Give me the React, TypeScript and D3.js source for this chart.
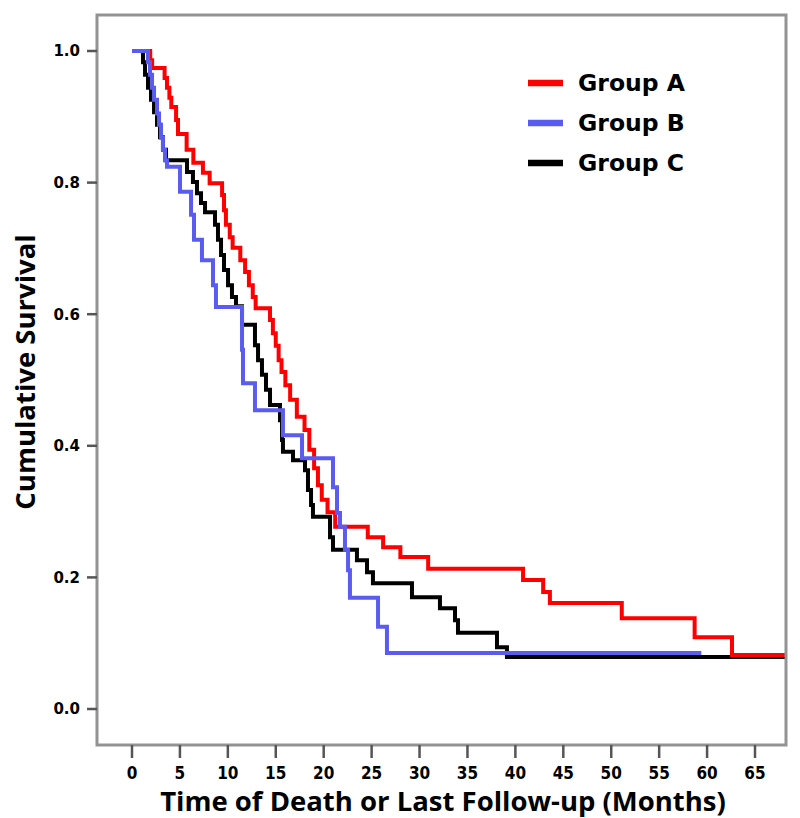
import React from "react";
import * as d3 from "d3";

// ---- data ----
const xTicks = [0, 5, 10, 15, 20, 25, 30, 35, 40, 45, 50, 55, 60, 65];
const yTicks = [0, 0.2, 0.4, 0.6, 0.8, 1.0];

const groupNames = ["Group A", "Group B", "Group C"];
const groupColors = ["#ff0000", "#5a5cf0", "#000000"];

const timesA = [1.9, 2.1, 3.4, 3.65, 3.9, 4.1, 4.6, 4.8, 5.7, 6.4, 7.4, 8.1, 9.4, 9.6, 9.8, 10.2, 10.5, 11.3, 11.8, 12.2, 12.6, 12.9, 14.4, 14.7, 15.0, 15.3, 15.6, 16.0, 16.5, 17.2, 18.0, 18.5, 19.0, 19.4, 19.8, 20.4, 21.2, 24.6, 26.2, 28.0, 30.9, 40.8, 42.9, 43.6, 51.1, 58.7, 62.6];
const survA = [0.986, 0.974, 0.959, 0.944, 0.929, 0.915, 0.895, 0.874, 0.85, 0.83, 0.815, 0.799, 0.781, 0.758, 0.736, 0.717, 0.701, 0.682, 0.664, 0.644, 0.626, 0.609, 0.591, 0.571, 0.552, 0.53, 0.512, 0.492, 0.47, 0.444, 0.424, 0.394, 0.366, 0.34, 0.318, 0.299, 0.277, 0.261, 0.246, 0.231, 0.213, 0.196, 0.178, 0.161, 0.138, 0.109, 0.082];
const endA = 70;

const timesB = [1.67, 1.88, 2.09, 2.3, 2.61, 2.82, 3.03, 3.23, 3.44, 3.65, 5.01, 6.16, 6.47, 7.3, 8.45, 8.76, 11.48, 11.58, 12.83, 15.75, 17.74, 20.97, 21.39, 21.7, 22.22, 22.54, 22.74, 25.67, 26.6];
const survB = [0.983, 0.964, 0.944, 0.926, 0.905, 0.888, 0.868, 0.85, 0.834, 0.824, 0.786, 0.751, 0.713, 0.682, 0.644, 0.611, 0.546, 0.495, 0.454, 0.416, 0.381, 0.337, 0.298, 0.277, 0.242, 0.211, 0.169, 0.125, 0.085];
const endB = 59.4;

const timesC = [1.15, 1.36, 1.67, 1.98, 2.3, 2.61, 2.92, 3.23, 3.55, 5.74, 6.36, 6.78, 7.2, 7.62, 8.66, 8.97, 9.29, 9.6, 10.02, 10.43, 10.85, 11.48, 12.83, 13.15, 13.56, 13.98, 14.4, 15.44, 15.65, 15.75, 16.8, 18.05, 18.36, 18.68, 18.88, 20.66, 20.97, 23.47, 24.52, 25.14, 29.21, 32.13, 33.7, 34.01, 38.08, 39.12];
const survC = [0.983, 0.964, 0.944, 0.926, 0.907, 0.888, 0.869, 0.85, 0.834, 0.816, 0.801, 0.784, 0.769, 0.755, 0.736, 0.713, 0.69, 0.667, 0.644, 0.626, 0.612, 0.584, 0.553, 0.53, 0.508, 0.485, 0.462, 0.439, 0.409, 0.391, 0.378, 0.363, 0.333, 0.31, 0.292, 0.261, 0.242, 0.226, 0.208, 0.191, 0.17, 0.153, 0.135, 0.116, 0.094, 0.079];
const endC = 70;

const W = 800;
const H = 818;
const frame = { left: 97, top: 15, right: 786, bottom: 745 };

function buildSeries(times: number[], surv: number[], end: number) {
  const pts: [number, number][] = [[0, 1]];
  times.forEach((t, i) => pts.push([t, surv[i]]));
  pts.push([end, surv[surv.length - 1]]);
  return pts;
}

export default function App() {
  const x = d3.scaleLinear().domain([0, 65]).range([132, 755]);
  const y = d3.scaleLinear().domain([0, 1]).range([709, 51]);
  const line = d3
    .line<[number, number]>()
    .x((d) => x(d[0]))
    .y((d) => y(d[1]))
    .curve(d3.curveStepAfter);

  const series = [
    buildSeries(timesA, survA, endA),
    buildSeries(timesB, survB, endB),
    buildSeries(timesC, survC, endC),
  ];
  const drawOrder = [2, 0, 1];

  const gray = "#939393";
  const tickFont = "'DejaVu Sans Condensed', 'Liberation Sans Narrow', 'DejaVu Sans', sans-serif";
  const titleFont = "'Open Sans', 'DejaVu Sans', sans-serif";
  const boldFont = "'DejaVu Sans', Verdana, sans-serif";

  return (
    <svg
      width={W}
      height={H}
      style={{ position: "absolute", left: 0, top: 0, background: "#fff" }}
    >
      <defs>
        <clipPath id="plotClip">
          <rect
            x={frame.left}
            y={frame.top}
            width={frame.right - frame.left}
            height={frame.bottom - frame.top}
          />
        </clipPath>
      </defs>
      <rect x={0} y={0} width={W} height={H} fill="#fff" />

      {/* curves */}
      <g clipPath="url(#plotClip)">
        {drawOrder.map((i) => (
          <path
            key={i}
            d={line(series[i]) || ""}
            fill="none"
            stroke={groupColors[i]}
            strokeWidth={4}
          />
        ))}
      </g>

      {/* frame */}
      <rect
        x={frame.left}
        y={frame.top}
        width={frame.right - frame.left}
        height={frame.bottom - frame.top}
        fill="none"
        stroke={gray}
        strokeWidth={3}
      />

      {/* y axis ticks */}
      {yTicks.map((v) => (
        <g key={"y" + v}>
          <line
            x1={87}
            x2={frame.left}
            y1={y(v)}
            y2={y(v)}
            stroke="#555"
            strokeWidth={2.5}
          />
          <text
            x={80}
            y={y(v)}
            dy="0.36em"
            textAnchor="end"
            fontFamily={boldFont}
            fontWeight="bold"
            fontSize={15}
            fill="#000"
          >
            {v.toFixed(1)}
          </text>
        </g>
      ))}

      {/* x axis ticks */}
      {xTicks.map((v) => (
        <g key={"x" + v}>
          <line
            x1={x(v)}
            x2={x(v)}
            y1={frame.bottom}
            y2={758}
            stroke="#555"
            strokeWidth={2.5}
          />
          <text
            x={x(v)}
            y={779}
            textAnchor="middle"
            fontFamily={tickFont}
            fontWeight="bold"
            fontSize={17}
            fill="#000"
          >
            {v}
          </text>
        </g>
      ))}

      {/* axis titles */}
      <text
        x={443}
        y={811}
        textAnchor="middle"
        fontFamily={titleFont}
        fontWeight="bold"
        fontSize={27.5}
        fill="#000"
      >
        Time of Death or Last Follow-up (Months)
      </text>
      <text
        transform={`translate(35, 372) rotate(-90)`}
        textAnchor="middle"
        fontFamily={titleFont}
        fontWeight="bold"
        fontSize={27.5}
        fill="#000"
      >
        Cumulative Survival
      </text>

      {/* legend */}
      {groupNames.map((name, i) => {
        const ly = 83 + i * 40;
        return (
          <g key={name}>
            <line
              x1={528}
              x2={563}
              y1={ly}
              y2={ly}
              stroke={groupColors[i]}
              strokeWidth={6.5}
            />
            <text
              x={578}
              y={ly}
              dy="0.36em"
              fontFamily={boldFont}
              fontWeight="bold"
              fontSize={23.5}
              fill="#000"
            >
              {name}
            </text>
          </g>
        );
      })}
    </svg>
  );
}
